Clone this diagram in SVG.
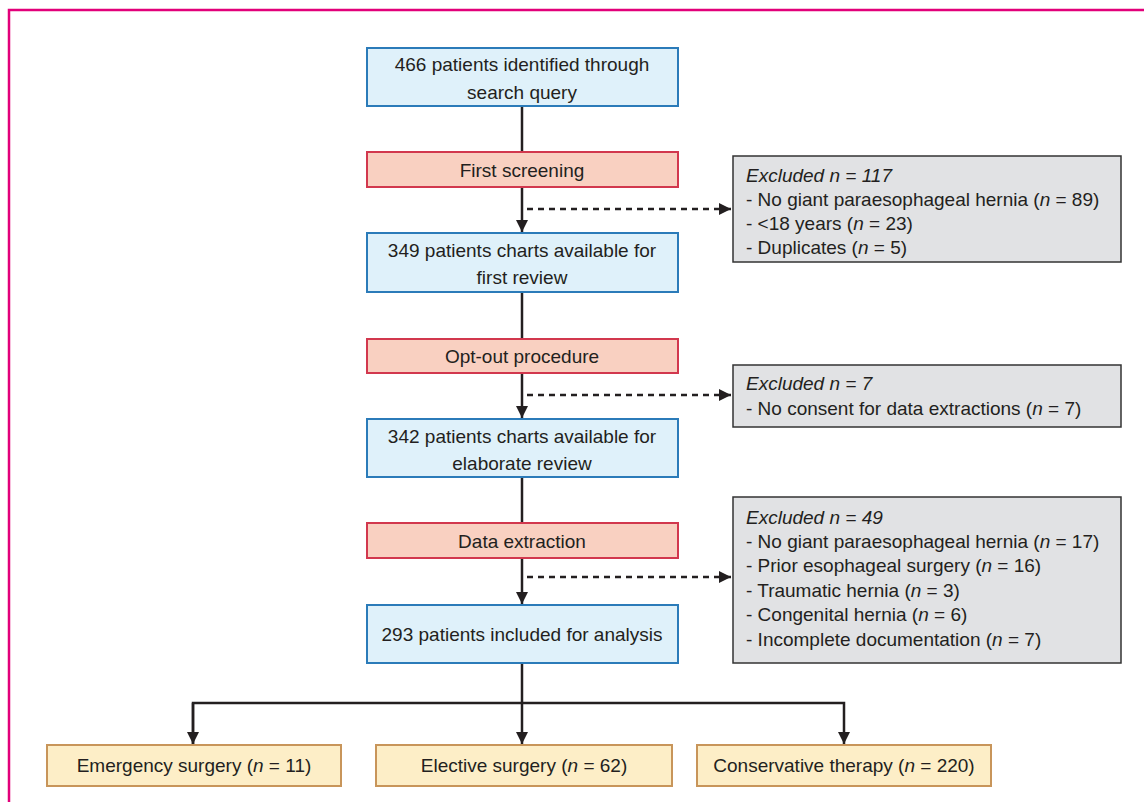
<svg xmlns="http://www.w3.org/2000/svg" width="1144" height="802" viewBox="0 0 1144 802">
<style>
text{font-family:"Liberation Sans",Arial,sans-serif;font-size:19px;fill:#231f20}
.c{text-anchor:middle}
.blue{fill:#dff1fa;stroke:#2b7bb9;stroke-width:2}
.red{fill:#f9d0c1;stroke:#d2384e;stroke-width:2}
.gray{fill:#e1e2e4;stroke:#333;stroke-width:1.5}
.yel{fill:#fdeec7;stroke:#c8955a;stroke-width:2}
.ln{stroke:#231f20;stroke-width:2.5;fill:none}
.ds{stroke:#231f20;stroke-width:2.5;fill:none;stroke-dasharray:6 5}
</style>
<defs>
<marker id="ah" viewBox="0 0 10 10" refX="10" refY="5" markerWidth="5" markerHeight="5" orient="auto" markerUnits="strokeWidth">
<path d="M0,0 L10,5 L0,10 Z" fill="#231f20"/>
</marker>
</defs>
<rect x="9" y="10" width="1150" height="800" fill="none" stroke="#e2007a" stroke-width="2.5"/>
<g id="connectors">
<path class="ln" d="M522,106 V152"/>
<path class="ln" d="M522,187 V232" marker-end="url(#ah)"/>
<path class="ds" d="M527,209 H731" marker-end="url(#ah)"/>
<path class="ln" d="M522,292 V339"/>
<path class="ln" d="M522,373 V418" marker-end="url(#ah)"/>
<path class="ds" d="M527,395 H731" marker-end="url(#ah)"/>
<path class="ln" d="M522,477 V523"/>
<path class="ln" d="M522,558 V604" marker-end="url(#ah)"/>
<path class="ds" d="M527,577 H731" marker-end="url(#ah)"/>
<path class="ln" d="M522,663 V744" marker-end="url(#ah)"/>
<path class="ln" d="M193,744 V703 H844 V744" marker-end="url(#ah)"/>
<path class="ln" d="M193,703 V744" marker-end="url(#ah)"/>
</g>
<g id="n466"><rect class="blue" x="367" y="48" width="311" height="58"/><text class="c" x="522" y="71">466 patients identified through</text><text class="c" x="522" y="99">search query</text></g>
<g id="screen"><rect class="red" x="367" y="152" width="311" height="35"/><text class="c" x="522" y="177">First screening</text></g>
<g id="n349"><rect class="blue" x="367" y="233" width="311" height="59"/><text class="c" x="522" y="257">349 patients charts available for</text><text class="c" x="522" y="284">first review</text></g>
<g id="optout"><rect class="red" x="367" y="339" width="311" height="34"/><text class="c" x="522" y="363">Opt-out procedure</text></g>
<g id="n342"><rect class="blue" x="367" y="419" width="311" height="58"/><text class="c" x="522" y="443">342 patients charts available for</text><text class="c" x="522" y="470">elaborate review</text></g>
<g id="extract"><rect class="red" x="367" y="523" width="311" height="35"/><text class="c" x="522" y="548">Data extraction</text></g>
<g id="n293"><rect class="blue" x="367" y="605" width="311" height="58"/><text class="c" x="522" y="641">293 patients included for analysis</text></g>
<g id="ex1"><rect class="gray" x="733" y="156" width="388" height="106"/>
<text x="746" y="182"><tspan font-style="italic">Excluded n = 117</tspan></text>
<text x="746" y="206">- No giant paraesophageal hernia (<tspan font-style="italic">n</tspan> = 89)</text>
<text x="746" y="230">- &lt;18 years (<tspan font-style="italic">n</tspan> = 23)</text>
<text x="746" y="254">- Duplicates (<tspan font-style="italic">n</tspan> = 5)</text></g>
<g id="ex2"><rect class="gray" x="733" y="365" width="388" height="62"/>
<text x="746" y="390"><tspan font-style="italic">Excluded n = 7</tspan></text>
<text x="746" y="415">- No consent for data extractions (<tspan font-style="italic">n</tspan> = 7)</text></g>
<g id="ex3"><rect class="gray" x="733" y="497" width="388" height="166"/>
<text x="746" y="524"><tspan font-style="italic">Excluded n = 49</tspan></text>
<text x="746" y="548">- No giant paraesophageal hernia (<tspan font-style="italic">n</tspan> = 17)</text>
<text x="746" y="572">- Prior esophageal surgery (<tspan font-style="italic">n</tspan> = 16)</text>
<text x="746" y="597">- Traumatic hernia (<tspan font-style="italic">n</tspan> = 3)</text>
<text x="746" y="621">- Congenital hernia (<tspan font-style="italic">n</tspan> = 6)</text>
<text x="746" y="646">- Incomplete documentation (<tspan font-style="italic">n</tspan> = 7)</text></g>
<g id="emerg"><rect class="yel" x="47" y="745" width="294" height="41"/><text class="c" x="194" y="772">Emergency surgery (<tspan font-style="italic">n</tspan> = 11)</text></g>
<g id="elect"><rect class="yel" x="376" y="745" width="296" height="41"/><text class="c" x="524" y="772">Elective surgery (<tspan font-style="italic">n</tspan> = 62)</text></g>
<g id="cons"><rect class="yel" x="697" y="745" width="294" height="41"/><text class="c" x="844" y="772">Conservative therapy (<tspan font-style="italic">n</tspan> = 220)</text></g>
</svg>
